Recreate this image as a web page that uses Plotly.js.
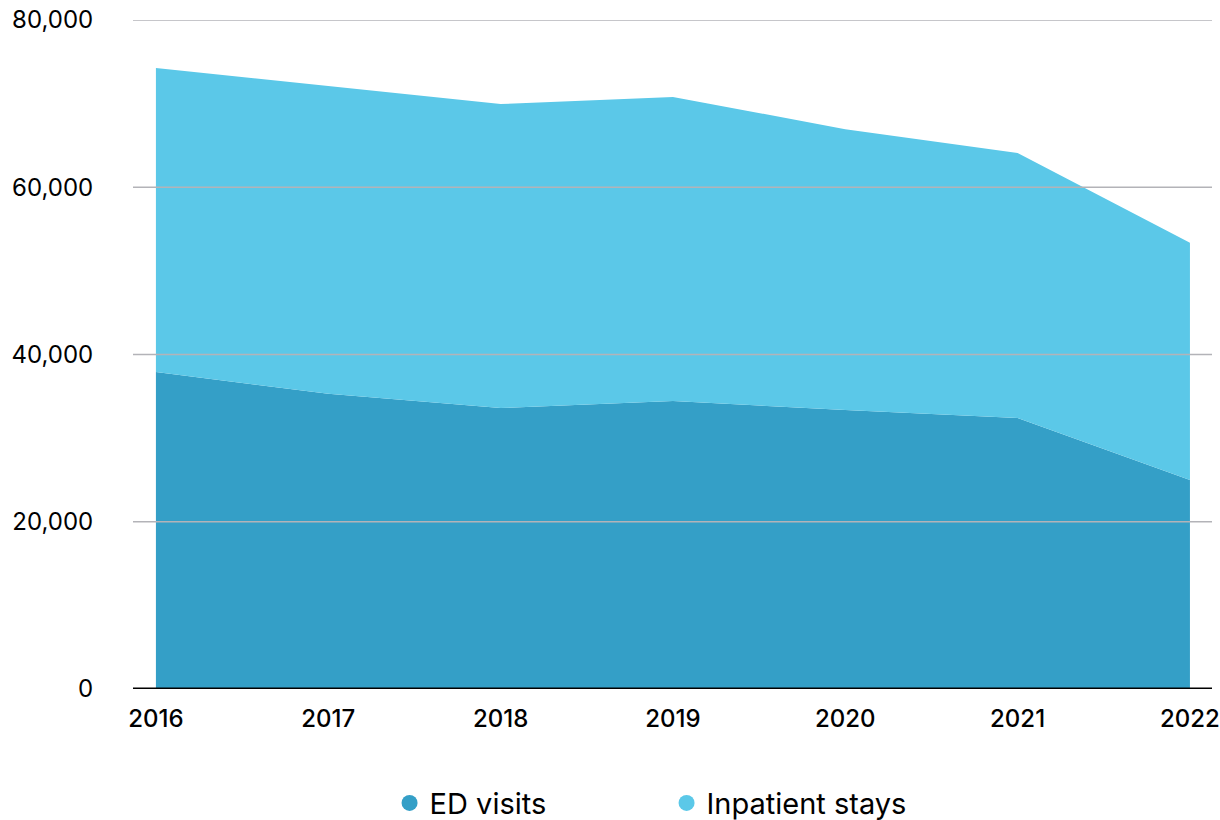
<!DOCTYPE html>
<html><head><meta charset="utf-8">
<script src="https://cdn.plot.ly/plotly-3.0.1.min.js"></script>
<style>html,body{margin:0;padding:0;background:#fff}#chart{width:1220px;height:820px}</style>
</head><body><div id="chart"></div>
<script>
const years = [2016, 2017, 2018, 2019, 2020, 2021, 2022];
const edVisits = [37900, 35300, 33600, 34450, 33350, 32400, 25000];
const inpatientStays = [36350, 36800, 36350, 36350, 33600, 31700, 28350];
const yTickVals = [0, 20000, 40000, 60000, 80000];
const yTickText = ['0', '20,000', '40,000', '60,000', '80,000'];
const seriesNames = ['ED visits', 'Inpatient stays'];
const colors = ['#349fc7', '#5bc8e8'];

const font = 'Inter, "Noto Sans", sans-serif';
const traces = [
  {x: years, y: edVisits, name: seriesNames[0], type: 'scatter', mode: 'lines', stackgroup: 'one',
   line: {width: 0, color: colors[0]}, fillcolor: colors[0], showlegend: false, hoverinfo: 'x+y'},
  {x: years, y: inpatientStays, name: seriesNames[1], type: 'scatter', mode: 'lines', stackgroup: 'one',
   line: {width: 0, color: colors[1]}, fillcolor: colors[1], showlegend: false, hoverinfo: 'x+y'},
  {x: [null], y: [null], name: seriesNames[0], type: 'scatter', mode: 'markers',
   marker: {symbol: 'circle', size: 19, color: colors[0]}},
  {x: [null], y: [null], name: seriesNames[1], type: 'scatter', mode: 'markers',
   marker: {symbol: 'circle', size: 19, color: colors[1]}}
];
const shapes = yTickVals.filter(v => v > 0).map(v => ({
  type: 'line', xref: 'paper', x0: 0, x1: 1, yref: 'y', y0: v, y1: v,
  line: {color: '#b3b3b8', width: 1.6}, layer: 'above'
}));
shapes.push({type: 'line', xref: 'paper', x0: 0, x1: 1, yref: 'y', y0: 0, y1: 0,
  line: {color: '#000000', width: 3}, layer: 'above'});

const layout = {
  width: 1220, height: 820,
  margin: {l: 133, r: 8, t: 20, b: 131},
  paper_bgcolor: '#ffffff', plot_bgcolor: '#ffffff',
  font: {family: font, size: 24, color: '#000'},
  xaxis: {range: [2015.867, 2022.128], tickvals: years, ticktext: years.map(String),
    showgrid: false, zeroline: false, showline: false, ticks: 'outside', ticklen: 8, tickcolor: 'rgba(0,0,0,0)',
    tickfont: {size: 24, family: font, weight: 500}, fixedrange: true, automargin: false},
  yaxis: {range: [0, 80000], tickvals: yTickVals, ticktext: yTickText,
    showgrid: false, zeroline: false, showline: false, ticks: 'outside', ticklen: 34, tickcolor: 'rgba(0,0,0,0)',
    tickfont: {size: 24, family: font}, fixedrange: true, automargin: false},
  shapes: shapes,
  showlegend: true,
  legend: {orientation: 'h', x: 0.4945, xanchor: 'center', yref: 'container', y: 0.0207, yanchor: 'middle',
    font: {size: 29, family: font}, entrywidth: 232, itemwidth: 30, traceorder: 'normal'}
};
Plotly.newPlot('chart', traces, layout, {displayModeBar: false, staticPlot: true});
</script>
</body></html>
